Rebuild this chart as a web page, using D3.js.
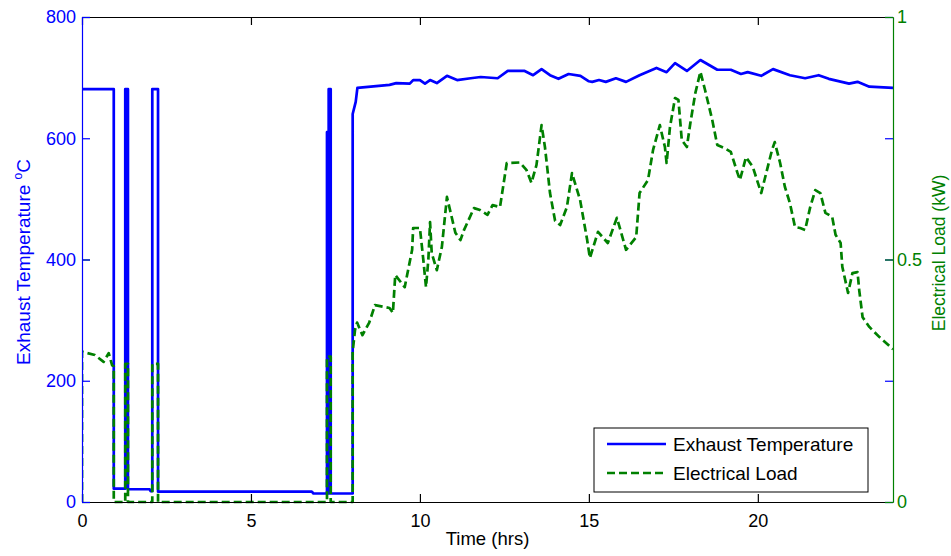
<!DOCTYPE html>
<html lang="en">
<head>
<meta charset="utf-8">
<title>Exhaust Temperature and Electrical Load</title>
<script src="https://cdn.jsdelivr.net/npm/d3@7"></script>
<style>
  body { margin: 0; background: #fff; }
  text { font-family: "Liberation Sans", Arial, sans-serif; }
</style>
</head>
<body>
<script>
// time (hrs) and exhaust temperature (degC)
var tempHours = [0, 0.94, 0.94, 1.28, 1.28, 1.36, 1.36, 2.0, 2.03, 2.08, 2.08, 2.25, 2.25, 6.8, 6.85,
  7.25, 7.25, 7.27, 7.27, 7.3, 7.3, 7.36, 7.36, 8.01, 8.01, 8.1, 8.15, 9.1, 9.3, 9.7, 9.8, 10.0,
  10.15, 10.3, 10.5, 10.8, 11.1, 11.5, 11.8, 12.3, 12.6, 13.1, 13.35, 13.6, 13.85, 14.1, 14.4,
  14.75, 15.0, 15.1, 15.3, 15.5, 15.8, 16.1, 16.5, 17.0, 17.3, 17.55, 17.9, 18.3, 18.8, 19.2,
  19.5, 19.7, 20.1, 20.45, 20.95, 21.4, 21.8, 22.1, 22.7, 22.95, 23.3, 24];
var tempValues = [681, 681, 22, 22, 681, 681, 21, 21, 18, 18, 681, 681, 17, 17, 14,
  14, 610, 610, 14, 14, 681, 681, 14, 14, 640, 660, 683, 688, 691, 690, 696, 696,
  690, 696, 691, 703, 696, 699, 701, 699, 711, 711, 704, 714, 704, 698, 706,
  703, 694, 693, 696, 693, 699, 693, 704, 716, 709, 724, 711, 729, 713, 713,
  706, 709, 703, 714, 704, 699, 704, 698, 690, 693, 685, 683];

// time (hrs) and electrical load (kW)
var loadHours = [0, 0, 0.38, 0.64, 0.79, 0.89, 0.94, 0.94, 1.28, 1.28, 1.36, 1.36, 2.08, 2.08, 2.25, 2.25,
  7.25, 7.25, 7.36, 7.36, 8.01, 8.01, 8.08, 8.14, 8.3, 8.5, 8.67, 9.1, 9.2, 9.27, 9.55, 9.77, 9.8,
  10.0, 10.1, 10.18, 10.25, 10.3, 10.35, 10.5, 10.65, 10.8, 11.05, 11.2, 11.3, 11.6, 11.78, 12.0,
  12.15, 12.37, 12.57, 12.96, 13.15, 13.3, 13.45, 13.6, 13.7, 13.85, 14.0, 14.15, 14.35, 14.5,
  14.74, 14.95, 15.03, 15.27, 15.56, 15.83, 16.1, 16.4, 16.5, 16.75, 16.9, 17.1, 17.25, 17.3,
  17.4, 17.55, 17.65, 17.75, 17.9, 18.0, 18.15, 18.3, 18.44, 18.65, 18.8, 19.0, 19.2, 19.4,
  19.47, 19.65, 19.85, 20.1, 20.42, 20.5, 20.66, 20.8, 20.95, 21.1, 21.25, 21.4, 21.55, 21.7,
  21.85, 22.0, 22.2, 22.3, 22.45, 22.5, 22.67, 22.8, 22.95, 23.0, 23.1, 23.3, 23.6, 24];
var loadValues = [0, 0.31, 0.303, 0.289, 0.307, 0.282, 0.28, 0, 0, 0.285, 0.285, 0, 0, 0.285, 0.285, 0,
  0, 0.30, 0.30, 0, 0, 0.31, 0.355, 0.37, 0.344, 0.37, 0.406, 0.40, 0.39, 0.468, 0.443, 0.52, 0.565,
  0.565, 0.50, 0.443, 0.50, 0.577, 0.513, 0.478, 0.526, 0.629, 0.555, 0.54, 0.56, 0.606, 0.602, 0.592,
  0.612, 0.608, 0.699, 0.70, 0.685, 0.658, 0.695, 0.777, 0.732, 0.637, 0.58, 0.571, 0.608, 0.678,
  0.623, 0.54, 0.503, 0.557, 0.534, 0.586, 0.52, 0.546, 0.637, 0.664, 0.726, 0.777, 0.732, 0.699,
  0.773, 0.833, 0.829, 0.746, 0.732, 0.78, 0.843, 0.887, 0.849, 0.788, 0.736, 0.73, 0.722, 0.678,
  0.664, 0.711, 0.691, 0.637, 0.726, 0.742, 0.699, 0.65, 0.616, 0.567, 0.565, 0.561, 0.608, 0.643,
  0.637, 0.596, 0.588, 0.551, 0.534, 0.485, 0.431, 0.472, 0.474, 0.437, 0.381, 0.361, 0.34, 0.315];

var xTicks = [0, 5, 10, 15, 20];
var tempTicks = [0, 200, 400, 600, 800];
var loadTicks = [0, 0.5, 1];
var seriesNames = ["Exhaust Temperature", "Electrical Load"];

var W = 951, H = 556;
// plot box edges (note: "top" is taken by window.top, so use plot* names)
var plotLeft = 82, plotRight = 893, plotTop = 17, plotBottom = 502;
var blue = "#0000ff", green = "#008000";
var tickLen = 8;
var lineW = 2.7;

var svg = d3.select("body").append("svg")
  .attr("width", W).attr("height", H);

var x = d3.scaleLinear().domain([0, 24]).range([plotLeft, plotRight]);
var yT = d3.scaleLinear().domain([0, 800]).range([plotBottom, plotTop]);
var yL = d3.scaleLinear().domain([0, 1]).range([plotBottom, plotTop]);

svg.append("clipPath").attr("id", "plot")
  .append("rect").attr("x", plotLeft).attr("y", plotTop - 2)
  .attr("width", plotRight - plotLeft).attr("height", plotBottom - plotTop + 4);

var tempData = tempHours.map(function(h, i) { return [h, tempValues[i]]; });
var loadData = loadHours.map(function(h, i) { return [h, loadValues[i]]; });

var tempLine = d3.line().x(function(d) { return x(d[0]); }).y(function(d) { return yT(d[1]); });
var loadLine = d3.line().x(function(d) { return x(d[0]); }).y(function(d) { return yL(d[1]); });

var g = svg.append("g").attr("clip-path", "url(#plot)");
g.append("path").datum(tempData)
  .attr("d", tempLine)
  .attr("fill", "none").attr("stroke", blue).attr("stroke-width", lineW)
  .attr("stroke-linejoin", "round");
g.append("path").datum(loadData)
  .attr("d", loadLine)
  .attr("fill", "none").attr("stroke", green).attr("stroke-width", lineW)
  .attr("stroke-linejoin", "round")
  .attr("stroke-dasharray", "8,4");

// axes: bottom/top black, left blue (temperature), right green (load)
var xAxisB = d3.axisBottom(x).tickValues(xTicks).tickSizeInner(-tickLen).tickSizeOuter(0).tickPadding(12);
var xAxisT = d3.axisTop(x).tickValues(xTicks).tickSizeInner(-tickLen).tickSizeOuter(0).tickFormat("");
var yAxisL = d3.axisLeft(yT).tickValues(tempTicks).tickSizeInner(-tickLen).tickSizeOuter(0).tickPadding(6);
var yAxisLm = d3.axisRight(yT).tickValues(tempTicks).tickSizeInner(-tickLen).tickSizeOuter(0).tickFormat("");
var yAxisR = d3.axisRight(yL).tickValues(loadTicks).tickSizeInner(-tickLen).tickSizeOuter(0).tickPadding(4)
  .tickFormat(function(d) { return d; });
var yAxisRm = d3.axisLeft(yL).tickValues(loadTicks).tickSizeInner(-tickLen).tickSizeOuter(0).tickFormat("");

function styleAxis(sel, color) {
  sel.selectAll("path").attr("stroke", color).attr("stroke-width", 1.2);
  sel.selectAll("line").attr("stroke", color).attr("stroke-width", 1.2);
  sel.selectAll("text").attr("fill", color).attr("font-size", 18)
    .attr("font-family", "'Liberation Sans', Arial, sans-serif");
}

svg.append("g").attr("transform", "translate(0," + plotBottom + ")").call(xAxisB).call(styleAxis, "#000");
svg.append("g").attr("transform", "translate(0," + plotTop + ")").call(xAxisT).call(styleAxis, "#000");
svg.append("g").attr("transform", "translate(" + plotRight + ",0)").call(yAxisLm).call(styleAxis, blue)
  .select("path").remove();
svg.append("g").attr("transform", "translate(" + plotLeft + ",0)").call(yAxisRm).call(styleAxis, green)
  .select("path").remove();
svg.append("g").attr("transform", "translate(" + plotLeft + ",0)").call(yAxisL).call(styleAxis, blue);
svg.append("g").attr("transform", "translate(" + plotRight + ",0)").call(yAxisR).call(styleAxis, green);

// axis labels
svg.append("text")
  .attr("x", (plotLeft + plotRight) / 2).attr("y", 545)
  .attr("text-anchor", "middle").attr("font-size", 18.5).attr("fill", "#000")
  .text("Time (hrs)");

var yl = svg.append("text")
  .attr("transform", "translate(30,262) rotate(-90)")
  .attr("text-anchor", "middle").attr("font-size", 19).attr("fill", blue);
yl.append("tspan").text("Exhaust Temperature ");
yl.append("tspan").attr("font-size", 12).attr("dy", -8).text("o");
yl.append("tspan").attr("dy", 8).text("C");

svg.append("text")
  .attr("transform", "translate(945,253) rotate(-90)")
  .attr("text-anchor", "middle").attr("font-size", 17.5).attr("fill", green)
  .text("Electrical Load (kW)");

// legend
var legend = svg.append("g");
legend.append("rect")
  .attr("x", 594).attr("y", 428).attr("width", 274).attr("height", 64)
  .attr("fill", "#fff").attr("stroke", "#000").attr("stroke-width", 1);
var legendColors = [blue, green];
var legendDash = [null, "8,4"];
seriesNames.forEach(function(name, i) {
  var ly = 444 + i * 29;
  legend.append("line")
    .attr("x1", 607).attr("x2", 666).attr("y1", ly).attr("y2", ly)
    .attr("stroke", legendColors[i]).attr("stroke-width", lineW)
    .attr("stroke-dasharray", legendDash[i]);
  legend.append("text")
    .attr("x", 673).attr("y", ly + 7)
    .attr("font-size", 19).attr("fill", "#000")
    .text(name);
});
</script>
</body>
</html>
